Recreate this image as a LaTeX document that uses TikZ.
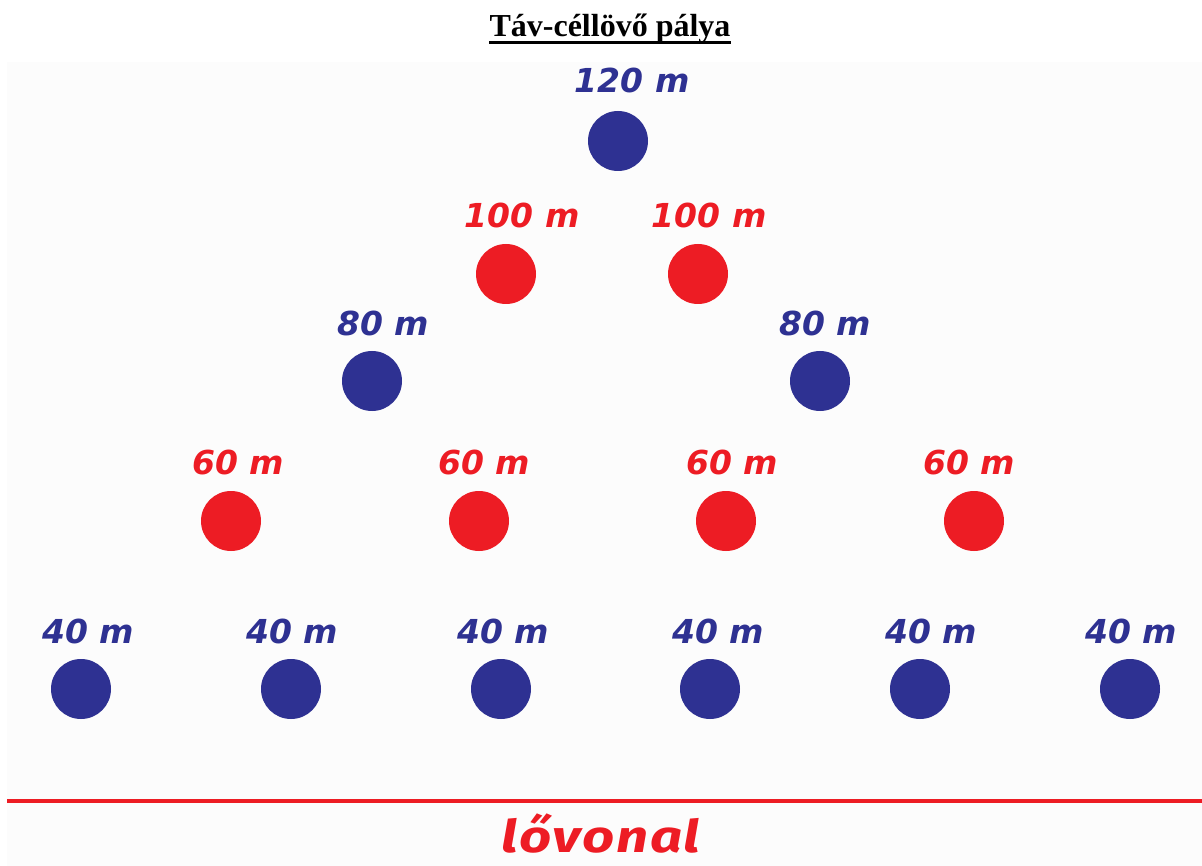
\documentclass[tikz,border=0pt]{standalone}
\usepackage{fontspec}
\usetikzlibrary{calc}
\setmainfont{Liberation Serif}
\newfontfamily\lblfont{DejaVu Sans}
\newfontfamily\linefont{Fira Sans}[LetterSpace=3]
\definecolor{tblue}{HTML}{2E3192}
\definecolor{tred}{HTML}{ED1C24}
\definecolor{bggray}{HTML}{FCFCFC}
\begin{document}
\begin{tikzpicture}[x=1pt,y=-1pt,
  target/.style={circle,minimum size=60pt,inner sep=0pt},
  bluet/.style={target,fill=tblue},
  redt/.style={target,fill=tred},
  lbl/.style={inner sep=0pt,font=\lblfont\bfseries\itshape\fontsize{33}{36}\selectfont},
  bluel/.style={lbl,text=tblue},
  redl/.style={lbl,text=tred}]
\useasboundingbox (0,0) rectangle (1202,866);
\fill[white] (0,0) rectangle (1202,866);
\fill[bggray] (7,62) rectangle (1202,866);
% title
\node[inner sep=0pt,anchor=base,font=\bfseries\fontsize{32}{36}\selectfont] (title) at (610,37) {Táv-céllövő pálya};
\draw[line width=3pt] ($(title.base west)+(0,6)$) -- ($(title.base east)+(0,6)$);
% targets
\node[bluet] (t120) at (618,141) {};
\node[bluel] (l120) at (632,80) {120 m};
\node[redt] (t100a) at (506,274) {};
\node[redt] (t100b) at (698,274) {};
\node[redl] (l100a) at (522,215) {100 m};
\node[redl] (l100b) at (709,215) {100 m};
\node[bluet] (t80a) at (372,381) {};
\node[bluet] (t80b) at (820,381) {};
\node[bluel] (l80a) at (383,323) {80 m};
\node[bluel] (l80b) at (825,323) {80 m};
\node[redt] (t60a) at (231,521) {};
\node[redt] (t60b) at (479,521) {};
\node[redt] (t60c) at (726,521) {};
\node[redt] (t60d) at (974,521) {};
\node[redl] (l60a) at (238,463) {60 m};
\node[redl] (l60b) at (484,463) {60 m};
\node[redl] (l60c) at (732,463) {60 m};
\node[redl] (l60d) at (969,463) {60 m};
\node[bluet] (t40a) at (81,689) {};
\node[bluet] (t40b) at (291,689) {};
\node[bluet] (t40c) at (501,689) {};
\node[bluet] (t40d) at (710,689) {};
\node[bluet] (t40e) at (920,689) {};
\node[bluet] (t40f) at (1130,689) {};
\node[bluel] (l40a) at (88,631) {40 m};
\node[bluel] (l40b) at (292,631) {40 m};
\node[bluel] (l40c) at (503,631) {40 m};
\node[bluel] (l40d) at (718,631) {40 m};
\node[bluel] (l40e) at (931,631) {40 m};
\node[bluel] (l40f) at (1131,631) {40 m};
% firing line
\coordinate (fl1) at (7,801);
\coordinate (fl2) at (1202,801);
\draw[tred,line width=4pt] (fl1) -- (fl2);
\node[inner sep=0pt,anchor=base,text=tred,font=\linefont\bfseries\itshape\fontsize{45}{50}\selectfont] (lovonal) at (601,852) {\scalebox{1.25}[1]{lővonal}};
\end{tikzpicture}
\end{document}
